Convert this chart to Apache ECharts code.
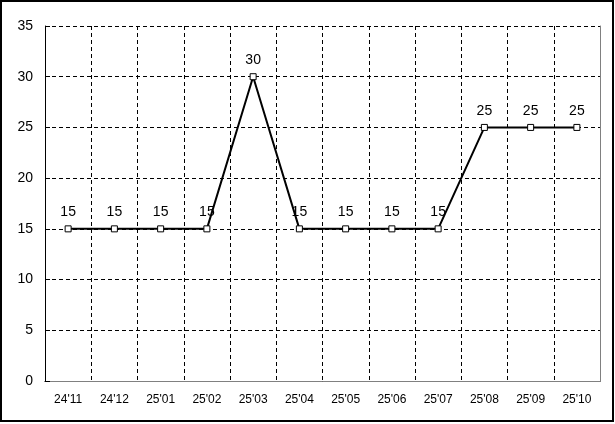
<!DOCTYPE html>
<html><head><meta charset="utf-8">
<script src="https://cdn.jsdelivr.net/npm/echarts@6/dist/echarts.min.js"></script>
<style>html,body{margin:0;padding:0;background:#fff}#c{width:615px;height:424px}</style>
</head><body><div id="c"></div>
<script>
var categories = ["24'11","24'12","25'01","25'02","25'03","25'04","25'05","25'06","25'07","25'08","25'09","25'10"];
var values = [15,15,15,15,30,15,15,15,15,25,25,25];
var yMin = 0, yMax = 35, yStep = 5;

var font = 'Liberation Sans, Arial, sans-serif';
var chart = echarts.init(document.getElementById('c'), null, {renderer:'canvas'});
chart.setOption({
  animation:false,
  backgroundColor:'#fff',
  grid:{left:45,right:15,top:26,bottom:43},
  graphic:[{type:'rect',z:100,silent:true,shape:{x:1,y:1,width:612,height:420},style:{fill:'none',stroke:'#000',lineWidth:2}}],
  xAxis:[{
    type:'category',data:categories,boundaryGap:true,
    axisLine:{lineStyle:{color:'#000',width:1}},
    axisTick:{show:false},
    axisLabel:{color:'#000',fontSize:12,fontFamily:font,margin:13},
    splitLine:{show:true,lineStyle:{color:'#000',type:[4,3],width:1}}
  },{
    type:'category',data:categories,position:'top',
    axisLine:{show:true,lineStyle:{color:'#808080'}},axisTick:{show:false},axisLabel:{show:false},splitLine:{show:false}
  }],
  yAxis:[{
    type:'value',min:yMin,max:yMax,interval:yStep,
    axisLine:{show:true,lineStyle:{color:'#000',width:1}},
    axisTick:{show:true,length:5,inside:true,lineStyle:{color:'#000'}},
    axisLabel:{color:'#000',fontSize:14,fontFamily:font,margin:12},
    splitLine:{show:true,lineStyle:{color:'#000',type:[4,3],width:1}}
  },{
    type:'value',min:yMin,max:yMax,interval:yStep,position:'right',
    axisLine:{show:true,lineStyle:{color:'#808080'}},axisTick:{show:false},axisLabel:{show:false},splitLine:{show:false}
  }],
  series:[{
    type:'line',data:values,
    lineStyle:{color:'#000',width:2},
    symbol:'rect',symbolSize:6,
    itemStyle:{color:'#fff',borderColor:'#000',borderWidth:1},
    label:{show:true,position:'top',distance:6,color:'#000',fontSize:14,fontFamily:font},
    z:5
  }]
});
</script></body></html>
